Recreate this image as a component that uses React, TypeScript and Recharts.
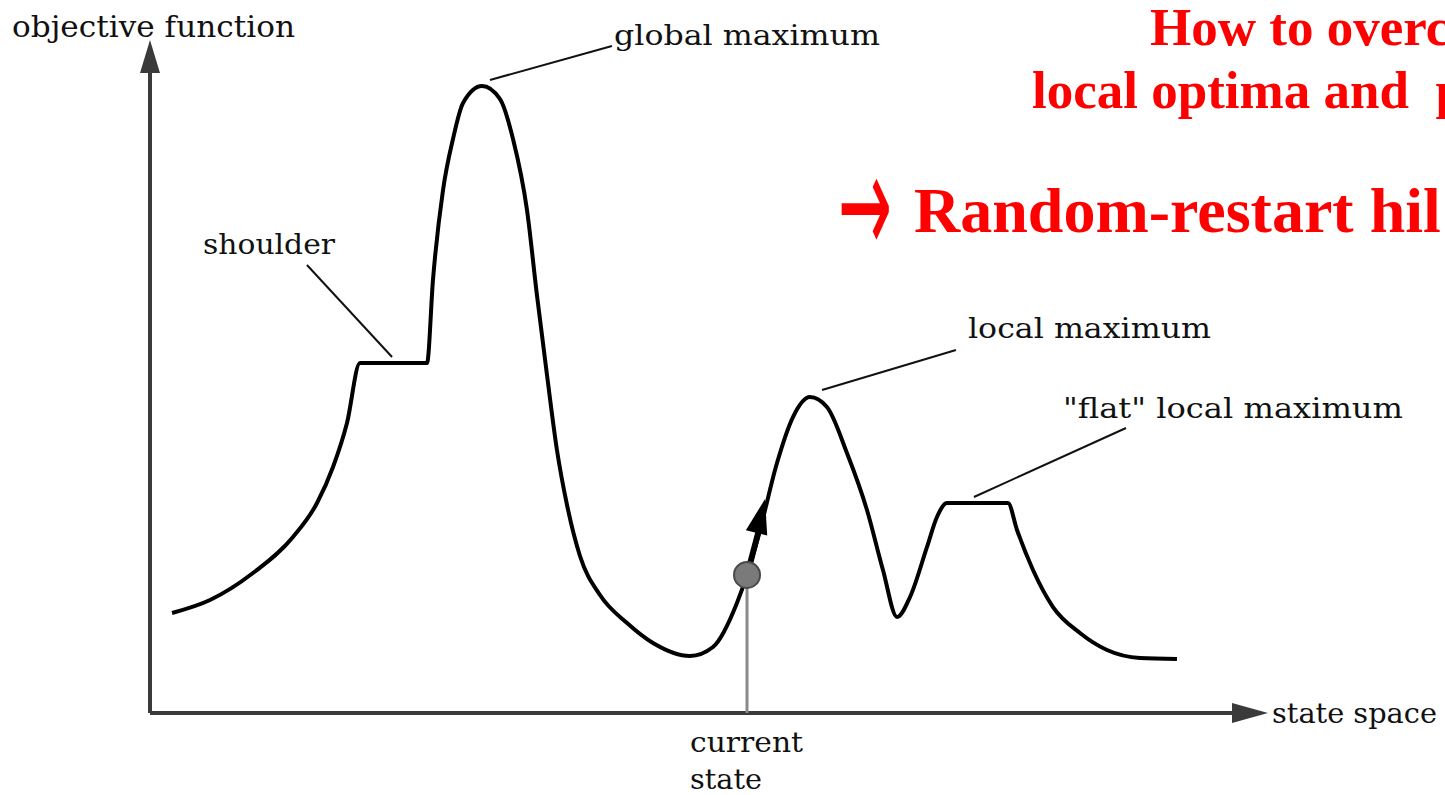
import React from "react";
import { LineChart, Line, XAxis, YAxis, ReferenceLine, ReferenceDot } from "recharts";

// State-space positions (0..100) and objective-function values (0..100)
const stateX = [
  1.97, 5.37, 9.21, 12.79, 14.94, 16.37, 17.62, 18.78, 24.78, 25.31, 26.21, 27.1, 28.0, 29.7,
  31.31, 32.47, 33.72, 34.62, 35.51, 36.4, 37.3, 38.46, 40.25, 42.67, 44.99, 48.3, 50.36,
  52.5, 53.4, 54.56, 56.08, 57.51, 59.03, 60.55, 62.34, 64.13, 65.56, 66.82, 67.98, 69.5,
  70.39, 71.29, 76.74, 77.55, 78.98, 80.77, 83.18, 85.6, 88.55, 91.86,
];
const objectiveY = [
  14.86, 16.79, 20.8, 26.15, 31.2, 36.55, 43.09, 52.01, 52.01, 64.34, 77.71, 85.29, 90.64, 93.16,
  91.23, 85.29, 74.74, 61.96, 50.22, 39.08, 30.91, 23.33, 17.53, 13.37, 10.4, 8.47, 9.81,
  16.34, 20.51, 27.19, 37.15, 43.98, 46.95, 45.47, 38.63, 30.16, 21.25, 14.26, 17.24, 24.67,
  29.12, 31.2, 31.2, 27.19, 21.25, 15.75, 11.89, 9.36, 8.17, 8.02,
];

// Annotation anchors (state, objective): [curve point, label end]
const globalLeader = [{ x: 30.41, y: 94.06 }, { x: 41.32, y: 99.11 }];
const shoulderLeader = [{ x: 14.04, y: 66.57 }, { x: 21.65, y: 52.9 }];
const localLeader = [{ x: 60.11, y: 47.99 }, { x: 72.09, y: 53.94 }];
const flatLeader = [{ x: 73.7, y: 32.1 }, { x: 87.3, y: 42.35 }];
const currentState = { x: 53.4, y: 20.51 };
const climbTip = { x: 55.01, y: 31.8 };

const axisLabelY = "objective function";
const axisLabelX = "state space";
const labelGlobal = "global maximum";
const labelShoulder = "shoulder";
const labelLocal = "local maximum";
const labelFlat = '"flat" local maximum';
const labelCurrent1 = "current";
const labelCurrent2 = "state";
const title1 = "How to overc";
const title2 = "local optima and  p";
const title3 = "Random-restart hil";

const data = stateX.map((x, i) => ({ x, y: objectiveY[i] }));

const FONT = "'DejaVu Serif', serif";
const RED_FONT = "'Liberation Serif', 'Times New Roman', serif";
const AXIS = "#3a3a3a";

const upArrow = (p: any) => (
  <polygon
    points={`${p.cx},${p.cy} ${p.cx - 10},${p.cy + 33} ${p.cx + 10},${p.cy + 33}`}
    fill={AXIS}
  />
);
const rightArrow = (p: any) => (
  <polygon
    points={`${p.cx},${p.cy} ${p.cx - 36},${p.cy - 10} ${p.cx - 36},${p.cy + 10}`}
    fill={AXIS}
  />
);
const climbArrow = (p: any) => (
  <g transform={`translate(${p.cx},${p.cy}) rotate(14)`}>
    <polygon points="0,0 -11,35 11,35" fill="#000" />
  </g>
);
const stateDot = (p: any) => (
  <circle cx={p.cx} cy={p.cy} r={13} fill="#7a7a7a" stroke="#4a4a4a" strokeWidth={2} />
);

export default function App() {
  return (
    <div style={{ position: "absolute", left: 0, top: 0, width: 1445, height: 795, background: "#fff" }}>
      <LineChart width={1445} height={795} data={data} margin={{ top: 40, right: 177, bottom: 82, left: 150 }}>
        <XAxis dataKey="x" type="number" domain={[0, 100]} hide allowDataOverflow />
        <YAxis type="number" domain={[0, 100]} hide allowDataOverflow />

        {/* axes */}
        <ReferenceLine segment={[{ x: 0, y: 0 }, { x: 0, y: 96 }]} stroke={AXIS} strokeWidth={4} ifOverflow="visible" />
        <ReferenceLine segment={[{ x: 0, y: 0 }, { x: 97, y: 0 }]} stroke={AXIS} strokeWidth={4} ifOverflow="visible" />
        <ReferenceDot x={0} y={100} r={1} shape={upArrow} ifOverflow="visible" />
        <ReferenceDot x={100} y={0} r={1} shape={rightArrow} ifOverflow="visible" />

        {/* current state marker */}
        <ReferenceLine
          segment={[{ x: currentState.x, y: 0 }, currentState]}
          stroke="#8a8a8a"
          strokeWidth={3}
          ifOverflow="visible"
        />

        {/* leaders */}
        <ReferenceLine segment={globalLeader} stroke="#111" strokeWidth={2} ifOverflow="visible" />
        <ReferenceLine segment={shoulderLeader} stroke="#111" strokeWidth={2} ifOverflow="visible" />
        <ReferenceLine segment={localLeader} stroke="#111" strokeWidth={2} ifOverflow="visible" />
        <ReferenceLine segment={flatLeader} stroke="#111" strokeWidth={2} ifOverflow="visible" />

        <Line
          dataKey="y"
          type="monotone"
          stroke="#000"
          strokeWidth={4}
          dot={false}
          activeDot={false}
          isAnimationActive={false}
          strokeLinejoin="round"
        />
        <ReferenceLine
          segment={[currentState, { x: 54.6, y: 28 }]}
          stroke="#000"
          strokeWidth={6}
          ifOverflow="visible"
        />
        <ReferenceDot x={currentState.x} y={currentState.y} r={13} shape={stateDot} ifOverflow="visible" />
        <ReferenceDot x={climbTip.x} y={climbTip.y} r={1} shape={climbArrow} ifOverflow="visible" />

        {/* texts */}
        <text x={12} y={37} fontFamily={FONT} fontSize={30} textLength={283} lengthAdjust="spacingAndGlyphs" fill="#111">{axisLabelY}</text>
        <text x={1272} y={723} fontFamily={FONT} fontSize={28} textLength={165} lengthAdjust="spacingAndGlyphs" fill="#111">{axisLabelX}</text>
        <text x={614} y={45} fontFamily={FONT} fontSize={27} textLength={266} lengthAdjust="spacingAndGlyphs" fill="#111">{labelGlobal}</text>
        <text x={203} y={254} fontFamily={FONT} fontSize={27} textLength={132} lengthAdjust="spacingAndGlyphs" fill="#111">{labelShoulder}</text>
        <text x={968} y={338} fontFamily={FONT} fontSize={27} textLength={243} lengthAdjust="spacingAndGlyphs" fill="#111">{labelLocal}</text>
        <text x={1063} y={418} fontFamily={FONT} fontSize={27} textLength={340} lengthAdjust="spacingAndGlyphs" fill="#111">{labelFlat}</text>
        <text x={690} y={752} fontFamily={FONT} fontSize={28} textLength={113} lengthAdjust="spacingAndGlyphs" fill="#111">{labelCurrent1}</text>
        <text x={690} y={789} fontFamily={FONT} fontSize={28} textLength={72} lengthAdjust="spacingAndGlyphs" fill="#111">{labelCurrent2}</text>

        <text x={1150} y={45} fontFamily={RED_FONT} fontWeight="bold" fontSize={53} fill="#ff0000">{title1}</text>
        <text x={1032} y={108} fontFamily={RED_FONT} fontWeight="bold" fontSize={53} fill="#ff0000" style={{ whiteSpace: "pre" }}>{title2}</text>
        <g transform="translate(0,208) scale(1,1.55) translate(0,-208)">
          <text x={838} y={238} fontFamily="'DejaVu Sans', sans-serif" fontSize={92} textLength={54} lengthAdjust="spacingAndGlyphs" fill="#ff0000">→</text>
        </g>
        <text x={914} y={232} fontFamily={RED_FONT} fontWeight="bold" fontSize={64} fill="#ff0000">{title3}</text>
      </LineChart>
    </div>
  );
}
